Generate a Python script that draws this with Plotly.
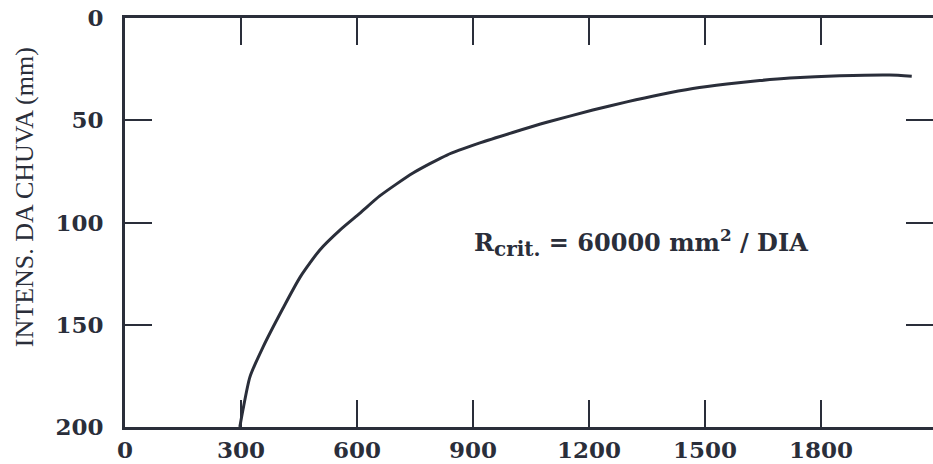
import plotly.graph_objects as go

# Data
vazao = [297, 305, 323, 357, 409, 453, 504, 556, 608, 659, 745, 833, 918,
         1003, 1091, 1210, 1298, 1383, 1469, 1557, 1642, 1720, 1849, 1978, 2035]
intensidade = [200, 191.7, 175.6, 160.9, 141.8, 126.7, 113.4, 103.7, 95.4, 87.0,
               75.8, 67.0, 61.1, 56.0, 51.0, 45.0, 41.0, 37.5, 34.5, 32.3,
               30.6, 29.4, 28.3, 27.9, 28.5]

x_ticks = [0, 300, 600, 900, 1200, 1500, 1800]
y_ticks = [0, 50, 100, 150, 200]
y_right_ticks = [50, 100, 150]

ink = "#2a2e3a"
serif_b = "DejaVu Serif, serif"
serif = "Liberation Serif, Times New Roman, serif"

fig = go.Figure()
fig.add_trace(go.Scatter(x=vazao, y=intensidade, mode="lines",
                         line=dict(color=ink, width=3, shape="spline", smoothing=0.6),
                         showlegend=False, hoverinfo="skip"))
# invisible trace for the right axis
fig.add_trace(go.Scatter(x=[vazao[0]], y=[intensidade[0]], yaxis="y2",
                         mode="markers", marker=dict(opacity=0),
                         showlegend=False, hoverinfo="skip"))

tickfont = dict(family=serif_b, size=23, color=ink, weight="bold")

fig.update_layout(
    width=933, height=464,
    margin=dict(l=125, r=0, t=18, b=37),
    paper_bgcolor="white", plot_bgcolor="white",
    font=dict(family=serif, color=ink),
    xaxis=dict(range=[0, 2090], tickvals=x_ticks, ticktext=[str(v) for v in x_ticks],
               ticks="inside", ticklen=27, tickwidth=2, tickcolor=ink,
               showline=True, linewidth=3, linecolor=ink, mirror="ticks",
               showgrid=False, zeroline=False, automargin=False,
               tickfont=tickfont, ticklabelstandoff=0),
    yaxis=dict(range=[200, 0], tickvals=y_ticks, ticktext=[str(v) for v in y_ticks],
               ticks="inside", ticklen=27, tickwidth=2, tickcolor=ink,
               showline=True, linewidth=3, linecolor=ink,
               showgrid=False, zeroline=False, automargin=False,
               tickfont=tickfont, ticklabelstandoff=14),
    yaxis2=dict(overlaying="y", side="right", range=[200, 0],
                tickvals=y_right_ticks, ticks="inside", ticklen=27, tickwidth=2,
                tickcolor=ink, showticklabels=False, showline=False,
                showgrid=False, zeroline=False, automargin=False),
    annotations=[
        dict(x=897, y=110, xref="x", yref="y", xanchor="left", yanchor="middle",
             text="R<sub><span style='font-size:20px'>crit.</span></sub> = 60000 mm<sup>2</sup> / DIA",
             showarrow=False,
             font=dict(family=serif_b, size=24, color=ink, weight="bold")),
        dict(x=-0.125, y=0.562, xref="paper", yref="paper", xanchor="center",
             yanchor="middle", textangle=-90, showarrow=False,
             text="INTENS. DA CHUVA (mm)",
             font=dict(family=serif, size=26, color=ink)),
    ],
)

fig.write_html(
    "out.html",
    config={"displayModeBar": False},
    post_script="document.body.style.margin='0';document.body.style.overflow='hidden';",
)
